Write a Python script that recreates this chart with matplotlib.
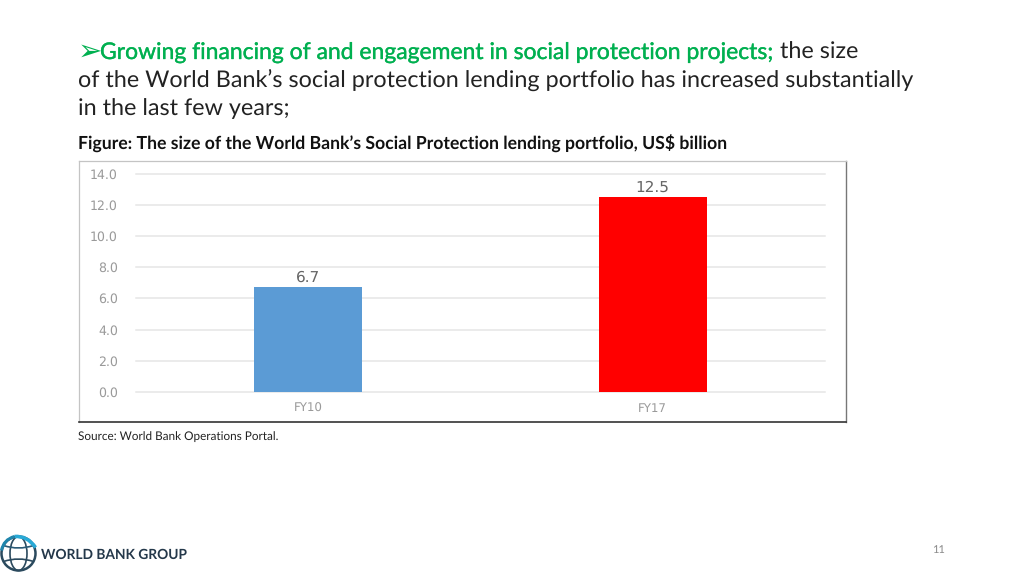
import matplotlib
matplotlib.use("Agg")
import matplotlib.pyplot as plt
import matplotlib.patheffects as pe
from matplotlib.patches import Circle, Ellipse, PathPatch
from matplotlib.path import Path

categories = ["FY10", "FY17"]
values = [6.7, 12.5]
bar_colors = ["#5B9BD5", "#FF0000"]
y_ticks = [0, 2, 4, 6, 8, 10, 12, 14]

plt.rcParams['text.hinting'] = 'no_hinting'
plt.rcParams['font.family'] = ['Lato', 'DejaVu Sans']

W, H = 1024, 576
fig = plt.figure(figsize=(W/100, H/100), dpi=100, facecolor="white")

def box(l, t, r, b):
    return [l/W, 1-b/H, (r-l)/W, (b-t)/H]

def T(x, y, s, **k):
    k.setdefault("va", "baseline")
    return fig.text(x/W, 1-y/H, s, **k)

GREEN = "#00B050"
T(78, 60, "\u27A2", color=GREEN, fontsize=21, family="DejaVu Sans")
T(100, 59, "Growing financing of and engagement in social protection projects;", color=GREEN, fontsize=16.5,
  path_effects=[pe.withStroke(linewidth=0.25, foreground=GREEN)])
T(780, 59, "the size", color="#222222", fontsize=16.8)
T(78, 87, "of the World Bank\u2019s social protection lending portfolio has increased substantially", color="#222222", fontsize=16.8)
T(78, 115, "in the last few years;", color="#222222", fontsize=16.8)
T(78, 150, "Figure: The size of the World Bank\u2019s Social Protection lending portfolio, US$ billion", color="#111111", fontsize=12.69, fontweight="bold")
T(78, 440, "Source: World Bank Operations Portal.", color="#222222", fontsize=8.47)
T(939, 553, "11", color="#8a8a8a", fontsize=8, ha="center")

# chart panel
frame = fig.add_axes(box(79, 161, 846, 422), zorder=0)
frame.set_xticks([]); frame.set_yticks([])
for side, sp in frame.spines.items():
    sp.set_color("#333333" if side == "bottom" else "#777777" if side == "right" else "#c4c4c4")
    sp.set_linewidth(1.2 if side == "bottom" else 1.0 if side == "right" else 0.9)

ax = fig.add_axes(box(136, 173.5, 825, 392), zorder=1)
ax.patch.set_alpha(0)
ax.bar(categories, values, width=0.314, color=bar_colors, linewidth=0, zorder=3)
ax.set_xlim(-0.5, 1.5)
ax.set_ylim(0, 14)
ax.set_yticks(y_ticks)
ax.set_yticklabels([f"{v:.1f}" for v in y_ticks], color="#9a9a9a", fontsize=9, family="DejaVu Sans")
ax.grid(axis="y", color="#e6e6e6", linewidth=1.1, zorder=0, clip_on=False)
ax.set_axisbelow(True)
ax.tick_params(axis="both", length=0, pad=13)
ax.tick_params(axis="x", pad=8, labelsize=8.5, labelcolor="#9a9a9a")
for l in ax.get_xticklabels():
    l.set_family("DejaVu Sans")
for sp in ax.spines.values():
    sp.set_visible(False)
for i, v in enumerate(values):
    ax.annotate(f"{v:.1f}", (i, v), xytext=(0, 1.5), textcoords="offset points",
                ha="center", va="bottom", color="#666666", fontsize=11, family="DejaVu Sans")

# logo
logo = fig.add_axes([0, 0, 1, 1], zorder=2)
logo.set_xlim(0, W); logo.set_ylim(H, 0); logo.axis("off")
cx, cy, r = 18.5, 553.5, 17
logo.add_patch(Circle((cx, cy), r, fill=False, ec="#2b4a5e", lw=1.8))
logo.add_patch(Ellipse((cx, cy), 17, 2*r, fill=False, ec="#2b4a5e", lw=1.2))
logo.add_patch(PathPatch(Path([(cx-15, cy-8), (cx, cy-3), (cx+15, cy-8)], [1, 3, 3]), fill=False, ec="#2b5a75", lw=1.2))
logo.add_patch(PathPatch(Path([(cx-15, cy+8), (cx, cy+3), (cx+15, cy+8)], [1, 3, 3]), fill=False, ec="#2b4a5e", lw=1.2))
logo.add_patch(PathPatch(Path([(cx-4, cy-r), (cx+9, cy-r-1), (cx+r, cy-6)], [1, 3, 3]), fill=False, ec="#29a9d6", lw=2.6))
logo.add_patch(PathPatch(Path([(cx-r, cy-3), (cx-r+2, cy-r+3), (cx-4, cy-r)], [1, 3, 3]), fill=False, ec="#1f86ad", lw=2.2))
T(41, 559, "WORLD BANK GROUP", color="#24384a", fontsize=9.9, fontweight="bold")

fig.savefig("out.png", dpi=100, facecolor="white")
